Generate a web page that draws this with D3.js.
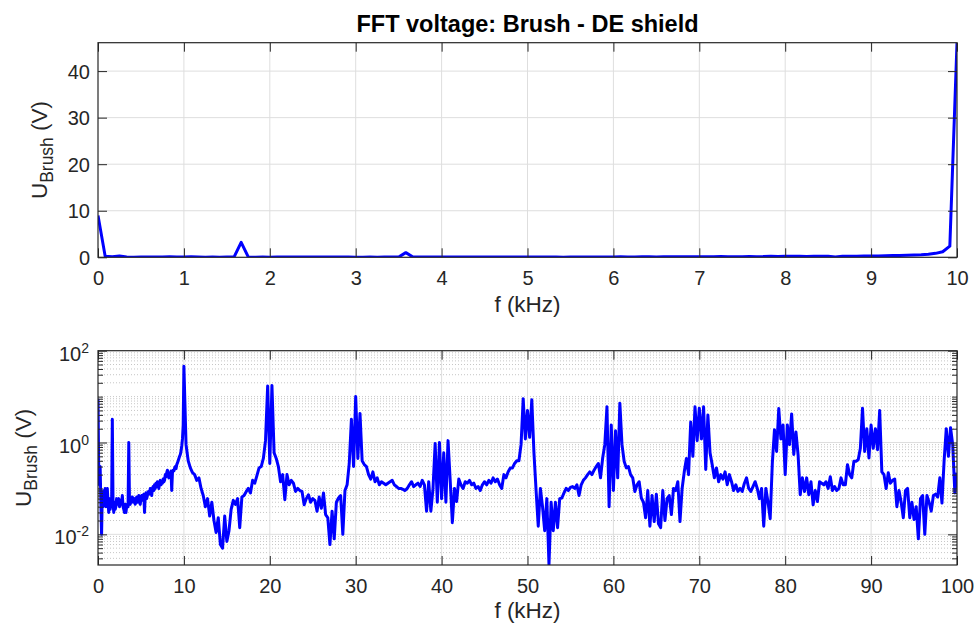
<!DOCTYPE html>
<html>
<head>
<meta charset="utf-8">
<script src="https://cdn.jsdelivr.net/npm/d3@7"></script>
<style>
  body { margin: 0; background: #ffffff; }
  svg text { font-family: "Liberation Sans", Arial, Helvetica, sans-serif; }
</style>
</head>
<body>
<svg id="fig" width="978" height="625"></svg>
<script>
// ---- Spectrum data (volts) ----
// Fine FFT bins below 10 kHz, one bin every 1/12 kHz (0 ... 10 kHz)
const lowBandStep = 1 / 12;
const lowBandVolts = [
  9.0, 0.25, 0.12, 0.3, 0.05, 0.01, 0.08, 0.04, 0.09, 0.05,
  0.1, 0.04, 0.09, 0.1, 0.05, 0.03, 0.06, 0.035, 0.05, 0.04,
  3.2, 0.05, 0.03, 0.05, 0.035, 0.04, 0.06, 0.045, 0.05, 0.06,
  0.04, 0.045, 0.055, 0.05, 0.07, 0.04, 0.035, 0.03, 0.045, 0.03,
  0.04, 0.045, 0.04, 1.0, 0.05, 0.045, 0.06, 0.05, 0.065, 0.055,
  0.05, 0.06, 0.045, 0.055, 0.065, 0.05, 0.06, 0.07, 0.05, 0.045,
  0.06, 0.07, 0.055, 0.06, 0.075, 0.03, 0.07, 0.08, 0.06, 0.07,
  0.085, 0.075, 0.08, 0.1, 0.09, 0.07, 0.1, 0.11, 0.09, 0.12,
  0.1, 0.13, 0.11, 0.14, 0.12, 0.1, 0.13, 0.15, 0.12, 0.14,
  0.13, 0.16, 0.14, 0.15, 0.2, 0.18, 0.22, 0.25, 0.2, 0.17,
  0.22, 0.2, 0.24, 0.09, 0.22, 0.25, 0.24, 0.28, 0.3, 0.27,
  0.33, 0.36, 0.4, 0.45, 0.5, 0.55, 0.65, 0.85, 1.2, 2.4,
  46.1
];

// Wide band above 10 kHz, one value every 0.25 kHz (10.25 ... 100 kHz)
const highBandStart = 10.25;
const highBandStep = 0.25;
const highBandVolts = [
  0.9, 0.4, 0.28, 0.22,      0.2, 0.15, 0.17, 0.1,       0.07, 0.04, 0.06, 0.025,
  0.05, 0.02, 0.011, 0.023,  0.006, 0.005, 0.025, 0.007, 0.012, 0.035, 0.055, 0.045,
  0.06, 0.014, 0.065, 0.07,  0.085, 0.1, 0.08, 0.15,     0.13, 0.19, 0.28, 0.3,
  0.45, 1.1, 17, 0.35,       17.5, 0.6, 0.45, 0.3,       0.14, 0.2, 0.057, 0.2,
  0.12, 0.15, 0.13, 0.086,   0.1, 0.09, 0.086, 0.044,    0.06, 0.073, 0.05, 0.06,
  0.055, 0.032, 0.065, 0.037, 0.08, 0.027, 0.023, 0.006, 0.032, 0.008, 0.05, 0.062,
  0.07, 0.01, 0.09, 0.12,    0.35, 3.2, 0.3, 10,         0.45, 4.3, 0.4, 0.33,
  0.3, 0.2, 0.16, 0.23,      0.14, 0.17, 0.12, 0.14,     0.13, 0.12, 0.13, 0.14,
  0.15, 0.12, 0.11, 0.1,     0.1, 0.095, 0.09, 0.1,      0.12, 0.14, 0.11, 0.12,
  0.13, 0.11, 0.15, 0.12,    0.032, 0.14, 0.032, 0.1,    0.95, 0.05, 1.0, 0.06,
  0.6, 0.05, 1.1, 0.15,      0.018, 0.1, 0.052, 0.16,    0.12, 0.1, 0.14, 0.13,
  0.15, 0.12, 0.13, 0.1,     0.11, 0.09, 0.12, 0.14,     0.12, 0.15, 0.13, 0.17,
  0.14, 0.16, 0.12, 0.1,     0.2, 0.17, 0.23, 0.28,      0.28, 0.35, 0.4, 0.4,
  0.9, 9, 1.2, 5,            1.3, 8.5, 0.6, 0.09,        0.015, 0.1, 0.04, 0.012,
  0.06, 0.0022, 0.05, 0.012, 0.05, 0.014, 0.06, 0.062,   0.08, 0.1, 0.09, 0.105,
  0.11, 0.1, 0.12, 0.07,     0.12, 0.15, 0.17, 0.2,      0.23, 0.2, 0.25, 0.3,
  0.35, 0.17, 0.46, 0.9,     6, 0.04, 2.4, 0.09,         1.8, 0.17, 7.2, 0.9,
  0.39, 0.28, 0.3, 0.2,      0.17, 0.086, 0.12, 0.14,    0.062, 0.05, 0.023, 0.09,
  0.015, 0.07, 0.019, 0.075, 0.017, 0.014, 0.09, 0.02,   0.06, 0.07, 0.027, 0.1,
  0.09, 0.14, 0.019, 0.1,    0.23, 0.45, 0.2, 2.8,       0.5, 6, 1.1, 5.6,
  1.2, 6, 0.26, 4,           0.6, 0.33, 0.17, 0.28,      0.14, 0.2, 0.16, 0.23,
  0.12, 0.2, 0.14, 0.09,     0.12, 0.086, 0.1, 0.086,    0.13, 0.17, 0.1, 0.086,
  0.11, 0.14, 0.1, 0.06,     0.1, 0.015, 0.1, 0.05,      0.022, 0.35, 1.9, 0.64,
  5.5, 1.2, 2.4, 0.2,        2.4, 0.9, 4.2, 0.55,        1.7, 0.54, 0.073, 0.17,
  0.086, 0.17, 0.073, 0.14,  0.044, 0.09, 0.052, 0.14,   0.13, 0.12, 0.14, 0.1,
  0.18, 0.09, 0.11, 0.09,    0.1, 0.17, 0.12, 0.12,      0.33, 0.2, 0.17, 0.39,
  0.39, 0.42, 0.75, 5.6,     0.64, 2.0, 0.46, 2.4,       0.75, 2.0, 0.7, 5.0,
  0.23, 0.2, 0.1, 0.22,      0.13, 0.15, 0.16, 0.04,     0.09, 0.05, 0.023, 0.09,
  0.1, 0.023, 0.05, 0.021,   0.04, 0.008, 0.06, 0.07,    0.01, 0.07, 0.05, 0.032,
  0.07, 0.075, 0.065, 0.17,  0.048, 0.4, 2.0, 0.5,       2.1, 0.9, 0.08, 0.22
];

// ---- Axis ticks and text ----
const titleText = "FFT voltage: Brush - DE shield";
const xLabelText = "f (kHz)";
const topXTicks = [0, 1, 2, 3, 4, 5, 6, 7, 8, 9, 10];
const topYTicks = [0, 10, 20, 30, 40];
const botXTicks = [0, 10, 20, 30, 40, 50, 60, 70, 80, 90, 100];
const botYExponents = [-2, 0, 2];

// ---- Build series ----
const lowBand = lowBandVolts.map((v, i) => ({ f: i * lowBandStep, v }));
const highBand = highBandVolts.map((v, i) => ({ f: highBandStart + i * highBandStep, v }));
const fullBand = lowBand.concat(highBand);

// ---- Layout ----
const ink = "#262626";
const gridMajor = "#dedede";
const gridMinor = "#c6c6c6";
const lineBlue = "#0000ff";
const tickFont = 20, labelFont = 22.5;
const majorTick = 9, minorTick = 5;
const lineWidth = 3;

const topBox = { left: 98, right: 957, top: 42.7, bottom: 257.3 };
const botBox = { left: 98, right: 957, top: 350.7, bottom: 565 };

const xTop = d3.scaleLinear().domain([0, 10]).range([topBox.left, topBox.right]);
const yTop = d3.scaleLinear().domain([0, 46.1]).range([topBox.bottom, topBox.top]);
const xBot = d3.scaleLinear().domain([0, 100]).range([botBox.left, botBox.right]);
const yBot = d3.scaleLog().domain([0.00215, 100]).range([botBox.bottom, botBox.top]);

const svg = d3.select("#fig");
svg.append("rect").attr("width", 978).attr("height", 625).attr("fill", "#fff");
const defs = svg.append("defs");

function clipFor(id, box) {
  defs.append("clipPath").attr("id", id).append("rect")
    .attr("x", box.left).attr("y", box.top)
    .attr("width", box.right - box.left).attr("height", box.bottom - box.top);
  return `url(#${id})`;
}

function styleAxis(g) {
  g.select(".domain").remove();
  g.selectAll(".tick line").attr("stroke", ink).attr("stroke-width", 1);
  g.selectAll(".tick text").attr("fill", ink).attr("font-size", tickFont)
    .attr("font-family", '"Liberation Sans", Arial, sans-serif');
}

function xAxes(x, box, ticks) {
  const b = svg.append("g").attr("transform", `translate(0,${box.bottom})`)
    .call(d3.axisBottom(x).tickValues(ticks).tickSizeInner(-majorTick).tickSizeOuter(0).tickPadding(13.6));
  styleAxis(b);
  const t = svg.append("g").attr("transform", `translate(0,${box.top})`)
    .call(d3.axisTop(x).tickValues(ticks).tickSizeInner(-majorTick).tickSizeOuter(0).tickFormat(() => ""));
  styleAxis(t);
}

function frame(box) {
  svg.append("rect")
    .attr("x", box.left).attr("y", box.top)
    .attr("width", box.right - box.left).attr("height", box.bottom - box.top)
    .attr("fill", "none").attr("stroke", ink).attr("stroke-width", 1.2);
}

function yLabel(x, cy) {
  const t = svg.append("text")
    .attr("transform", `translate(${x},${cy}) rotate(-90)`)
    .attr("text-anchor", "middle").attr("font-size", labelFont).attr("fill", ink);
  t.append("tspan").text("U");
  t.append("tspan").attr("font-size", 17.5).attr("dy", 6).text("Brush");
  t.append("tspan").attr("dy", -6).text("\u00a0(V)");
}

function xLabel(box, baseline) {
  svg.append("text").attr("x", (box.left + box.right) / 2).attr("y", baseline)
    .attr("text-anchor", "middle").attr("font-size", labelFont).attr("fill", ink)
    .text(xLabelText);
}

// ================= Upper panel: linear scale, 0–10 kHz =================
svg.append("g").selectAll("line").data(topXTicks.slice(1, -1)).join("line")
  .attr("x1", d => xTop(d)).attr("x2", d => xTop(d))
  .attr("y1", topBox.top).attr("y2", topBox.bottom)
  .attr("stroke", gridMajor).attr("stroke-width", 1);
svg.append("g").selectAll("line").data(topYTicks.slice(1)).join("line")
  .attr("x1", topBox.left).attr("x2", topBox.right)
  .attr("y1", d => yTop(d)).attr("y2", d => yTop(d))
  .attr("stroke", gridMajor).attr("stroke-width", 1);

svg.append("path").datum(lowBand)
  .attr("clip-path", clipFor("clipTop", topBox))
  .attr("fill", "none").attr("stroke", lineBlue).attr("stroke-width", lineWidth)
  .attr("stroke-linejoin", "round")
  .attr("d", d3.line().x(d => xTop(d.f)).y(d => yTop(d.v)));

xAxes(xTop, topBox, topXTicks);
{
  const l = svg.append("g").attr("transform", `translate(${topBox.left},0)`)
    .call(d3.axisLeft(yTop).tickValues(topYTicks).tickSizeInner(-majorTick).tickSizeOuter(0).tickPadding(8));
  styleAxis(l);
  l.selectAll(".tick text").attr("dy", "0.36em");
  const r = svg.append("g").attr("transform", `translate(${topBox.right},0)`)
    .call(d3.axisRight(yTop).tickValues(topYTicks).tickSizeInner(-majorTick).tickSizeOuter(0).tickFormat(() => ""));
  styleAxis(r);
}
frame(topBox);

svg.append("text").attr("x", (topBox.left + topBox.right) / 2).attr("y", 32)
  .attr("text-anchor", "middle").attr("font-size", 23.5).attr("font-weight", "bold")
  .attr("fill", "#000").text(titleText);
xLabel(topBox, 312);
yLabel(46.5, (topBox.top + topBox.bottom) / 2);

// ================= Lower panel: log scale, 0–100 kHz =================
const [yMin, yMax] = yBot.domain();
const majorY = botYExponents.map(e => Math.pow(10, e));
const minorY = [];
for (let e = -3; e <= 1; e++) {
  for (let k = 1; k <= 9; k++) {
    const v = k * Math.pow(10, e);
    const isMajor = botYExponents.some(m => Math.abs(Math.log10(v) - m) < 1e-9);
    if (v > yMin && v < yMax && !isMajor) minorY.push(v);
  }
}

svg.append("g").selectAll("line").data(minorY).join("line")
  .attr("x1", botBox.left).attr("x2", botBox.right)
  .attr("y1", d => yBot(d)).attr("y2", d => yBot(d))
  .attr("stroke", gridMinor).attr("stroke-width", 1).attr("stroke-dasharray", "1,2");
svg.append("g").selectAll("line").data(botXTicks.slice(1, -1)).join("line")
  .attr("x1", d => xBot(d)).attr("x2", d => xBot(d))
  .attr("y1", botBox.top).attr("y2", botBox.bottom)
  .attr("stroke", gridMajor).attr("stroke-width", 1);
svg.append("g").selectAll("line").data(majorY.filter(v => v < yMax)).join("line")
  .attr("x1", botBox.left).attr("x2", botBox.right)
  .attr("y1", d => yBot(d)).attr("y2", d => yBot(d))
  .attr("stroke", gridMajor).attr("stroke-width", 1);

svg.append("path").datum(fullBand)
  .attr("clip-path", clipFor("clipBot", botBox))
  .attr("fill", "none").attr("stroke", lineBlue).attr("stroke-width", lineWidth)
  .attr("stroke-linejoin", "round")
  .attr("d", d3.line().x(d => xBot(d.f)).y(d => yBot(d.v)));

xAxes(xBot, botBox, botXTicks);
{
  const l = svg.append("g").attr("transform", `translate(${botBox.left},0)`)
    .call(d3.axisLeft(yBot).tickValues(majorY).tickSizeInner(-majorTick).tickSizeOuter(0)
      .tickPadding(9).tickFormat(() => ""));
  styleAxis(l);
  l.selectAll(".tick text").attr("dy", "9.5px").each(function (d) {
    const t = d3.select(this);
    t.append("tspan").text("10");
    t.append("tspan").attr("font-size", 14).attr("dy", -8).text(String(Math.round(Math.log10(d))));
  });
  const lm = svg.append("g").attr("transform", `translate(${botBox.left},0)`)
    .call(d3.axisLeft(yBot).tickValues(minorY).tickSizeInner(-minorTick).tickSizeOuter(0).tickFormat(() => ""));
  styleAxis(lm);
  const r = svg.append("g").attr("transform", `translate(${botBox.right},0)`)
    .call(d3.axisRight(yBot).tickValues(majorY).tickSizeInner(-majorTick).tickSizeOuter(0).tickFormat(() => ""));
  styleAxis(r);
  const rm = svg.append("g").attr("transform", `translate(${botBox.right},0)`)
    .call(d3.axisRight(yBot).tickValues(minorY).tickSizeInner(-minorTick).tickSizeOuter(0).tickFormat(() => ""));
  styleAxis(rm);
}
frame(botBox);

xLabel(botBox, 618);
yLabel(31, (botBox.top + botBox.bottom) / 2);
</script>
</body>
</html>
